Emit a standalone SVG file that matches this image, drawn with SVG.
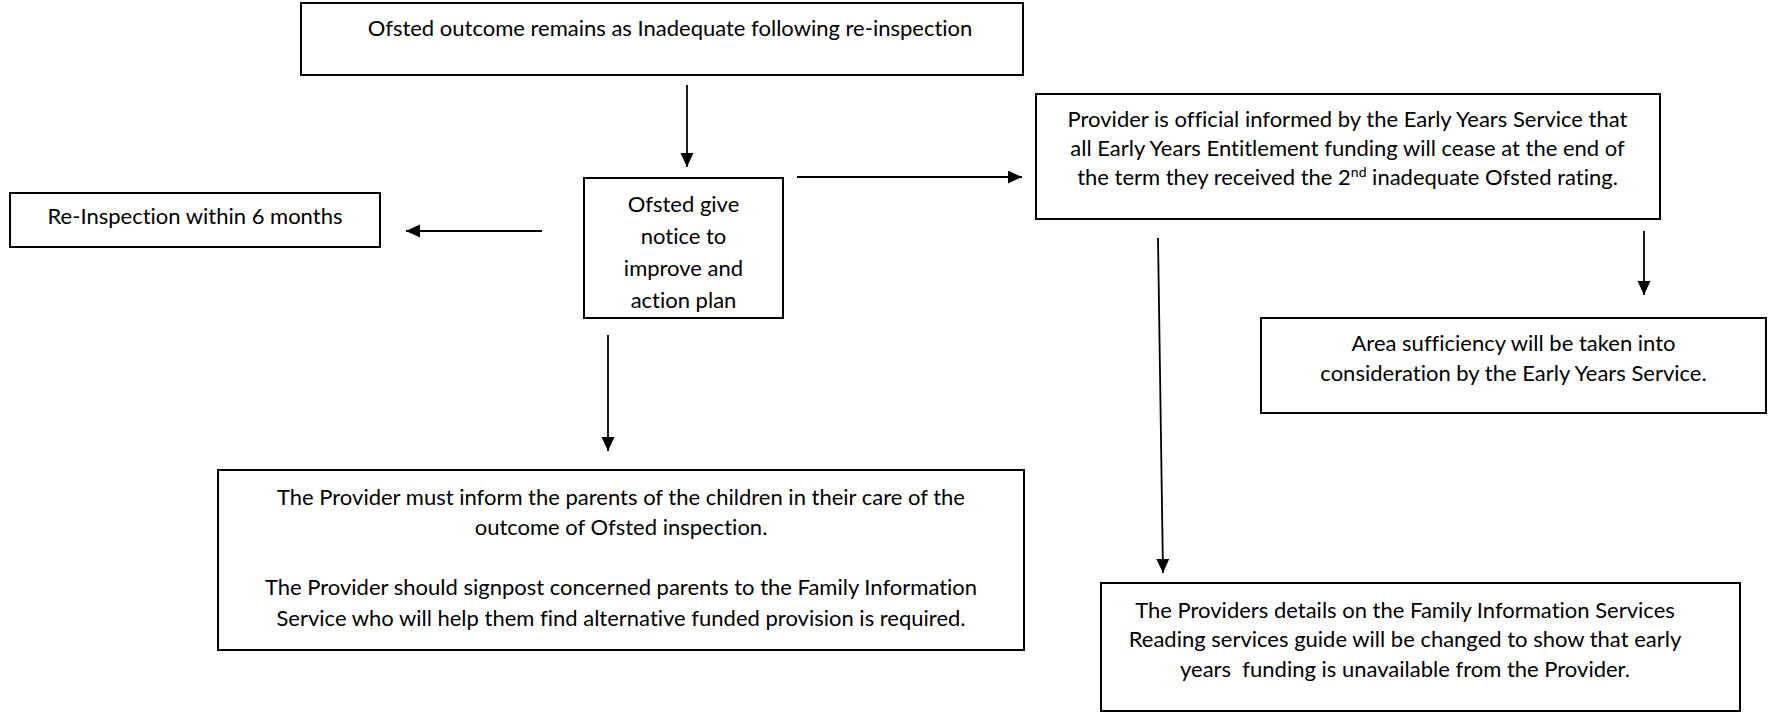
<svg xmlns="http://www.w3.org/2000/svg" width="1768" height="715" viewBox="0 0 1768 715">
<style>
.box{fill:#fff;stroke:#000;stroke-width:2}
.t{font-family:Lato,"Liberation Sans",sans-serif;font-size:22px;fill:#000;text-anchor:middle;font-variant-ligatures:none}
.c{stroke:#000;stroke-width:1.8;fill:none;marker-end:url(#ah)}
</style>
<defs>
<marker id="ah" markerUnits="userSpaceOnUse" markerWidth="14" markerHeight="14" refX="14" refY="6.5" orient="auto">
<path d="M0,0 L14,6.5 L0,13 z" fill="#000"/>
</marker>
</defs>
<rect width="1768" height="715" fill="#fff"/>
<g id="n1"><rect class="box" x="301" y="3" width="722" height="72"/>
<text class="t" x="670" y="36">Ofsted outcome remains as Inadequate following re-inspection</text></g>
<g id="n2"><rect class="box" x="10" y="193" width="370" height="54"/>
<text class="t" x="195" y="224">Re-Inspection within 6 months</text></g>
<g id="n3"><rect class="box" x="584" y="178" width="199" height="140"/>
<text class="t" x="683.5" y="212">Ofsted give</text>
<text class="t" x="683.5" y="244">notice to</text>
<text class="t" x="683.5" y="276">improve and</text>
<text class="t" x="683.5" y="308">action plan</text></g>
<g id="n4"><rect class="box" x="1036" y="94" width="624" height="125"/>
<text class="t" x="1347.5" y="127">Provider is official informed by the Early Years Service that</text>
<text class="t" x="1347.5" y="156">all Early Years Entitlement funding will cease at the end of</text>
<text class="t" x="1347.5" y="185">the term they received the 2<tspan font-size="14" dy="-8">nd</tspan><tspan dy="8"> inadequate Ofsted rating.</tspan></text></g>
<g id="n5"><rect class="box" x="1261" y="318" width="505" height="95"/>
<text class="t" x="1513.5" y="351">Area sufficiency will be taken into</text>
<text class="t" x="1513.5" y="381">consideration by the Early Years Service.</text></g>
<g id="n6"><rect class="box" x="218" y="470" width="806" height="180"/>
<text class="t" x="621" y="505">The Provider must inform the parents of the children in their care of the</text>
<text class="t" x="621" y="535">outcome of Ofsted inspection.</text>
<text class="t" x="621" y="595">The Provider should signpost concerned parents to the Family Information</text>
<text class="t" x="621" y="626">Service who will help them find alternative funded provision is required.</text></g>
<g id="n7"><rect class="box" x="1101" y="583" width="639" height="128"/>
<text class="t" x="1405" y="618">The Providers details on the Family Information Services</text>
<text class="t" x="1405" y="647">Reading services guide will be changed to show that early</text>
<text class="t" x="1405" y="677" xml:space="preserve">years  funding is unavailable from the Provider.</text></g>
<g id="connectors">
<line class="c" x1="687" y1="85" x2="687" y2="167"/>
<line class="c" x1="542" y1="231" x2="406" y2="231"/>
<line class="c" x1="797" y1="177" x2="1022" y2="177"/>
<line class="c" x1="608" y1="335" x2="608" y2="451"/>
<line class="c" x1="1158" y1="238" x2="1163" y2="573"/>
<line class="c" x1="1644" y1="231" x2="1644" y2="295"/>
</g>
</svg>
